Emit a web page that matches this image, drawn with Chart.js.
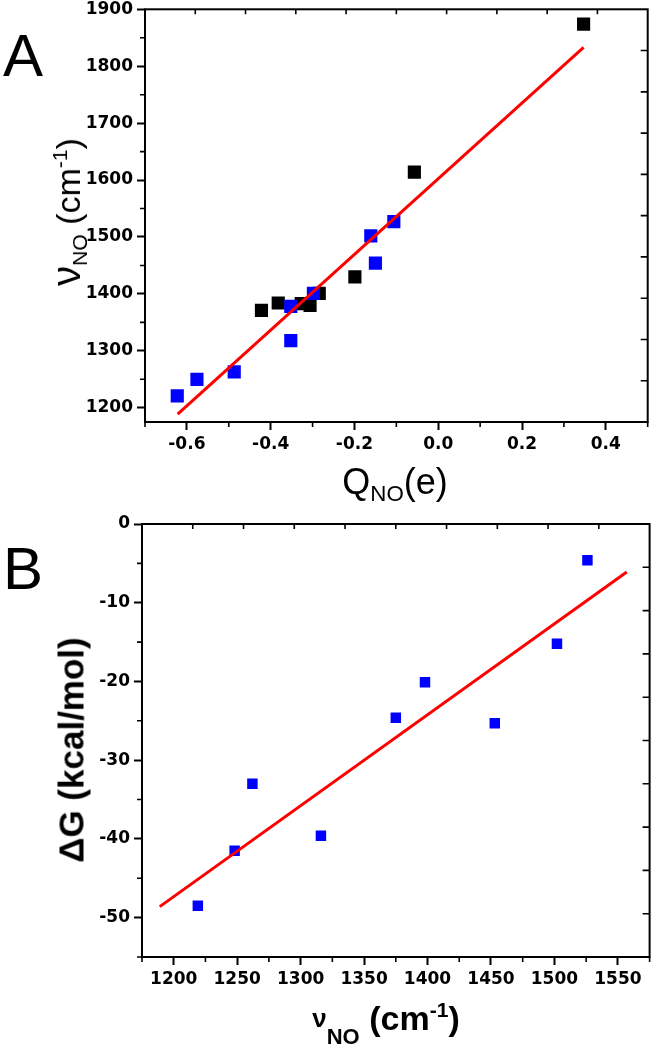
<!DOCTYPE html>
<html>
<head>
<meta charset="utf-8">
<script src="https://cdn.jsdelivr.net/npm/chart.js@4.4.0/dist/chart.umd.min.js"></script>
<style>
  body { margin: 0; background: #fff; }
  #page { position: relative; width: 657px; height: 1050px; overflow: hidden; font-family: "Liberation Sans", Arial, sans-serif; color: #000; }
  #wrapA { position: absolute; left: 0; top: 0; }
  #wrapB { position: absolute; left: 0; top: 500px; }
  .txt { position: absolute; white-space: nowrap; line-height: 1; }
  .panel { font-size: 60px; }
  .sub { font-size: 0.62em; position: relative; top: 0.32em; }
  .sup { font-size: 0.62em; position: relative; top: -0.62em; }
  .rot { transform: translate(-50%, -50%) rotate(-90deg); }
</style>
</head>
<body>
<div id="page">
  <div id="wrapA"><canvas id="chartA" width="657" height="500"></canvas></div>
  <div id="wrapB"><canvas id="chartB" width="657" height="550"></canvas></div>

  <div class="txt panel" style="left:3px; top:26px;">A</div>
  <div class="txt panel" style="left:3px; top:539px;">B</div>

  <div class="txt rot" style="left:66px; top:212px; font-size:34px;"><span style="font-size:40px">ν</span><span class="sub">NO</span> (cm<span class="sup">-1</span>)</div>
  <div class="txt" style="left:395px; top:464px; font-size:36px; transform:translateX(-50%);">Q<span class="sub">NO</span>(e)</div>

  <div class="txt rot" style="left:71px; top:750px; font-size:35px; font-weight:bold;">ΔG (kcal/mol)</div>
  <div class="txt" style="left:386px; top:1001px; font-size:34px; font-weight:bold; transform:translateX(-50%);"><span style="font-size:26px; position:relative; top:-3px;">ν</span><span style="font-size:22px; position:relative; top:14px;">NO</span> (cm<span class="sup">-1</span>)</div>
</div>

<script>
// panel A: NO stretching frequency against NO charge
const chargeBlack = [-0.422, -0.382, -0.327, -0.306, -0.284, -0.199, -0.057, 0.347];
const freqBlack   = [1371, 1384, 1383, 1380, 1401, 1430, 1614, 1874];
const chargeBlue  = [-0.623, -0.576, -0.487, -0.352, -0.352, -0.298, -0.161, -0.150, -0.106];
const freqBlue    = [1221, 1250, 1263, 1378, 1318, 1401, 1502, 1454, 1527];
const fitChargeA  = [-0.622, 0.347];
const fitFreqA    = [1189, 1833];
const xTicksA = [-0.6, -0.4, -0.2, 0.0, 0.2, 0.4];
const yTicksA = [1200, 1300, 1400, 1500, 1600, 1700, 1800, 1900];

// panel B: binding free energy against NO frequency
const freqB   = [1219, 1248, 1262, 1316, 1375, 1398, 1453, 1502, 1526];
const deltaG  = [-48.5, -41.5, -33.0, -39.6, -24.6, -20.1, -25.3, -15.2, -4.6];
const fitFreqB = [1189, 1557];
const fitDG    = [-48.6, -6.1];
const xTicksB = [1200, 1250, 1300, 1350, 1400, 1450, 1500, 1550];
const yTicksB = [0, -10, -20, -30, -40, -50];

const pts = (xs, ys) => xs.map((x, i) => ({ x: x, y: ys[i] }));

// box frame, short minor ticks between labelled ones, inward ticks on top/right
const framePlugin = {
  id: 'frame',
  afterDraw(chart, args, opts) {
    const { ctx, chartArea: a } = chart;
    const sx = chart.scales.x, sy = chart.scales.y;
    ctx.save();
    ctx.strokeStyle = '#000';
    ctx.lineWidth = 2;
    ctx.strokeRect(a.left, a.top, a.right - a.left, a.bottom - a.top);
    ctx.lineWidth = 1.6;
    ctx.beginPath();
    opts.minorX.forEach(v => {
      const px = sx.getPixelForValue(v);
      ctx.moveTo(px, a.bottom); ctx.lineTo(px, a.bottom + 5);
    });
    opts.minorY.forEach(v => {
      const py = sy.getPixelForValue(v);
      ctx.moveTo(a.left, py); ctx.lineTo(a.left - 5, py);
    });
    for (let i = 1; i < 10; i++) {
      const px = a.left + (a.right - a.left) * i / 10;
      ctx.moveTo(px, a.top); ctx.lineTo(px, a.top + 5);
      const py = a.top + (a.bottom - a.top) * i / 10;
      ctx.moveTo(a.right, py); ctx.lineTo(a.right - 7, py);
    }
    ctx.stroke();
    ctx.restore();
  }
};

function axis(min, max, list, fmt, fixed, horizontal) {
  return {
    type: 'linear',
    min: min,
    max: max,
    afterBuildTicks: s => { s.ticks = list.map(v => ({ value: v })); },
    afterFit: s => {
      if (horizontal) s.height = fixed; else s.width = fixed;
      s.paddingTop = 0; s.paddingBottom = 0; s.paddingLeft = 0; s.paddingRight = 0;
    },
    grid: { drawOnChartArea: false, drawTicks: true, tickLength: 8, tickWidth: 2, tickColor: '#000' },
    border: { display: false },
    ticks: {
      color: '#000',
      font: { family: 'DejaVu Sans', weight: 'bold', size: 17 },
      padding: 4,
      callback: fmt, maxRotation: 0, autoSkip: false
    }
  };
}

new Chart(document.getElementById('chartA'), {
  type: 'scatter',
  data: {
    datasets: [
      { type: 'line', data: pts(fitChargeA, fitFreqA), borderColor: '#ff0000', borderWidth: 3, pointRadius: 0, fill: false },
      { data: pts(chargeBlue, freqBlue), pointStyle: 'rect', pointRadius: 9.3, backgroundColor: '#0000ff', borderWidth: 0 },
      { data: pts(chargeBlack, freqBlack), pointStyle: 'rect', pointRadius: 9.3, backgroundColor: '#000000', borderWidth: 0 }
    ]
  },
  options: {
    responsive: false,
    animation: false,
    layout: { padding: { top: 9, right: 2, left: 0, bottom: 0 } },
    plugins: {
      legend: { display: false },
      tooltip: { enabled: false },
      frame: { minorX: [-0.7, -0.5, -0.3, -0.1, 0.1, 0.3, 0.5], minorY: [1250, 1350, 1450, 1550, 1650, 1750, 1850] }
    },
    scales: {
      x: axis(-0.7, 0.5, xTicksA, v => v.toFixed(1), 78, true),
      y: axis(1175, 1900, yTicksA, v => String(v), 145, false)
    }
  },
  plugins: [framePlugin]
});

new Chart(document.getElementById('chartB'), {
  type: 'scatter',
  data: {
    datasets: [
      { type: 'line', data: pts(fitFreqB, fitDG), borderColor: '#ff0000', borderWidth: 3, pointRadius: 0, fill: false },
      { data: pts(freqB, deltaG), pointStyle: 'rect', pointRadius: 7.4, backgroundColor: '#0000ff', borderWidth: 0 }
    ]
  },
  options: {
    responsive: false,
    animation: false,
    layout: { padding: { top: 24, right: 7, left: 0, bottom: 0 } },
    plugins: {
      legend: { display: false },
      tooltip: { enabled: false },
      frame: { minorX: [1175, 1225, 1275, 1325, 1375, 1425, 1475, 1525, 1575], minorY: [-5, -15, -25, -35, -45, -55] }
    },
    scales: {
      x: axis(1175, 1575, xTicksB, v => String(v), 93, true),
      y: axis(-55, 0, yTicksB, v => String(v), 142, false)
    }
  },
  plugins: [framePlugin]
});
</script>
</body>
</html>
